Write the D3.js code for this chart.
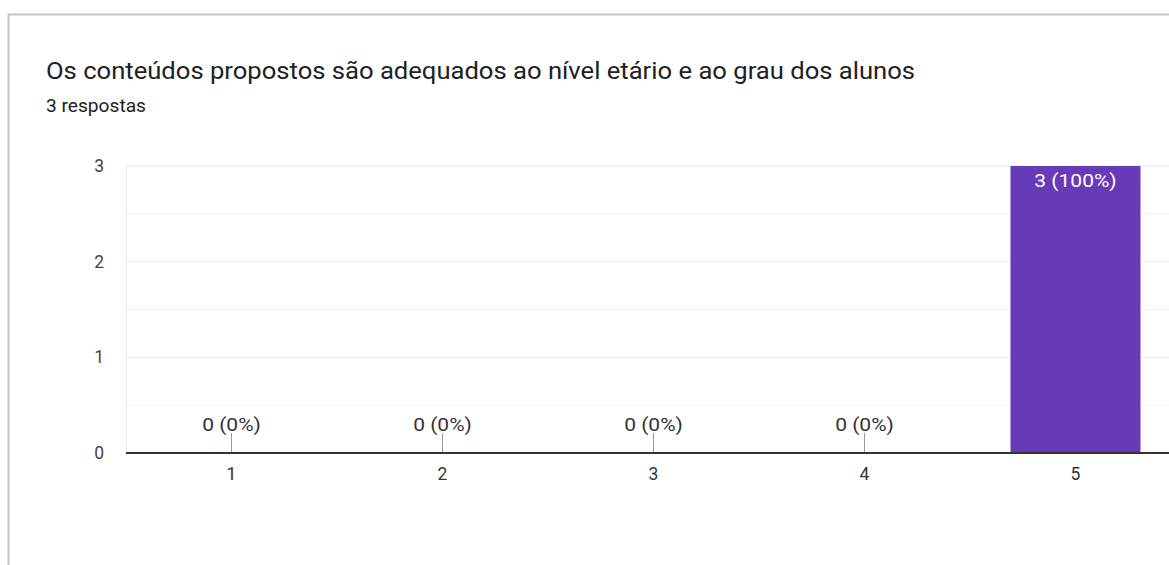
<!DOCTYPE html>
<html><head><meta charset="utf-8">
<script src="https://cdn.jsdelivr.net/npm/d3@7"></script>
<style>
html,body{margin:0;padding:0;background:#fff;}
svg{display:block;font-family:Roboto,Arial,sans-serif;}
</style></head>
<body>
<svg id="chart" width="1169" height="565"></svg>
<script>
const title = "Os conteúdos propostos são adequados ao nível etário e ao grau dos alunos";
const subtitle = "3 respostas";
const categories = ["1","2","3","4","5"];
const values = [0,0,0,0,3];
const percents = ["0%","0%","0%","0%","100%"];
const yTicks = [0,1,2,3];
const yMinorTicks = [0.5,1.5,2.5];

(function(){
const svg = d3.select("#chart");
const stretch = 1.2;
function widen(sel){
  sel.each(function(){
    const w = this.getComputedTextLength();
    if (w > 12) d3.select(this).attr("textLength", w*stretch).attr("lengthAdjust","spacingAndGlyphs");
  });
}
// card border
svg.append("path").attr("d","M8.5,565 V14.5 H1169").attr("fill","none").attr("stroke","#c4c4c4").attr("stroke-width",2);

svg.append("text").attr("x",46).attr("y",79).attr("font-size",23).attr("fill","#202124")
  .attr("textLength",869).attr("lengthAdjust","spacingAndGlyphs").text(title);
svg.append("text").attr("x",46).attr("y",112).attr("font-size",17.5).attr("fill","#202124")
  .attr("textLength",100).attr("lengthAdjust","spacingAndGlyphs").text(subtitle);

const pL = 126, pR = 1181, pT = 166, pB = 453;
const x = d3.scaleBand().domain(categories).range([pL,pR]).paddingInner(0.384).paddingOuter(0.192);
const y = d3.scaleLinear().domain([0,3]).range([pB,pT]);

const g = svg.append("g");
g.selectAll(".minor").data(yMinorTicks).enter().append("line")
  .attr("x1",pL).attr("x2",pR).attr("y1",d=>y(d)).attr("y2",d=>y(d))
  .attr("stroke","#f2f2f2").attr("stroke-width",1);
g.selectAll(".major").data(yTicks.filter(d=>d>0)).enter().append("line")
  .attr("x1",pL).attr("x2",pR).attr("y1",d=>y(d)).attr("y2",d=>y(d))
  .attr("stroke","#e6e6e6").attr("stroke-width",1);
g.append("line").attr("x1",pL+0.5).attr("x2",pL+0.5).attr("y1",pT).attr("y2",pB).attr("stroke","#ececec");

const yAxis = d3.axisLeft(y).tickValues(yTicks).tickSize(0).tickPadding(0).tickFormat(d3.format("d"));
const ya = svg.append("g").attr("transform",`translate(${pL-22},0)`).call(yAxis);
ya.select(".domain").remove();
ya.selectAll("text").attr("font-size",17.5).attr("fill","#444").attr("font-family","Roboto,Arial,sans-serif");

// bars
g.selectAll(".bar").data(values).enter().append("rect")
  .attr("x",(d,i)=>x(categories[i])).attr("width",x.bandwidth())
  .attr("y",d=>y(d)).attr("height",d=>pB-y(d)).attr("fill","#673ab7");

// labels
values.forEach((v,i)=>{
  const cx = x(categories[i]) + x.bandwidth()/2;
  const lbl = v + " (" + percents[i] + ")";
  if (v === 0) {
    g.append("line").attr("x1",cx).attr("x2",cx).attr("y1",433).attr("y2",pB).attr("stroke","#999").attr("stroke-width",1);
    g.append("text").attr("class","dl").attr("x",cx).attr("y",431).attr("text-anchor","middle").attr("font-size",17.5).attr("fill","#333").text(lbl);
  } else {
    g.append("text").attr("class","dl").attr("x",cx).attr("y",y(v)+21).attr("text-anchor","middle").attr("font-size",17.5).attr("fill","#fff").text(lbl);
  }
});
widen(g.selectAll("text.dl"));

// x axis
const xAxis = d3.axisBottom(x).tickSize(0).tickPadding(15);
const xa = svg.append("g").attr("transform",`translate(0,${pB})`).call(xAxis);
xa.select(".domain").attr("stroke","#333").attr("stroke-width",2).attr("d",`M${pL},0H${pR}`);
xa.selectAll("text").attr("font-size",17.5).attr("fill","#333").attr("font-family","Roboto,Arial,sans-serif");
})();
</script>
</body></html>
